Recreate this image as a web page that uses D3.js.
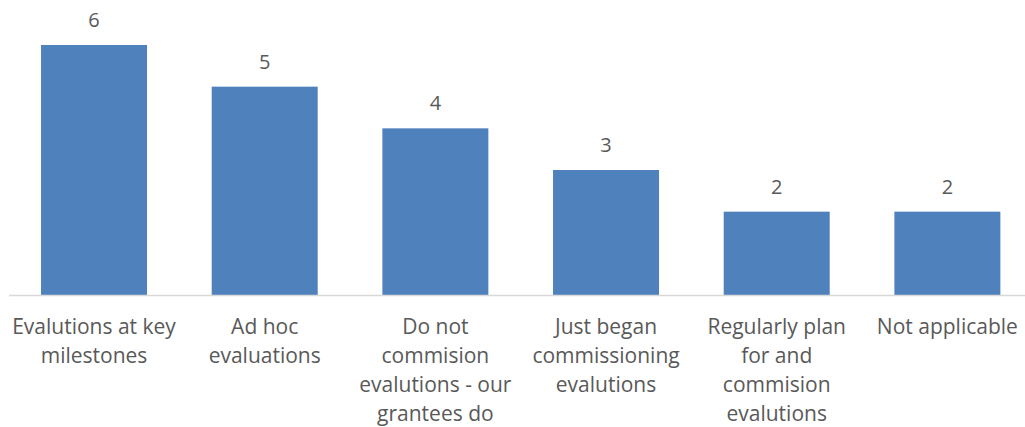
<!DOCTYPE html>
<html>
<head>
<meta charset="utf-8">
<script src="https://cdn.jsdelivr.net/npm/d3@7"></script>
<style>
  html, body { margin: 0; padding: 0; background: #ffffff; }
  svg { display: block; }
  text { font-family: "Open Sans", Lato, sans-serif; fill: #595959; }
</style>
</head>
<body>
<div id="chart"></div>
<script>
// Evaluation practices reported by respondents
const categories = [
  "Evalutions at key milestones",
  "Ad hoc evaluations",
  "Do not commision evalutions - our grantees do",
  "Just began commissioning evalutions",
  "Regularly plan for and commision evalutions",
  "Not applicable"
];
const counts = [6, 5, 4, 3, 2, 2];
// Wrapped axis label lines for each category
const labelLines = [
  ["Evalutions at key", "milestones"],
  ["Ad hoc", "evaluations"],
  ["Do not", "commision", "evalutions - our", "grantees do"],
  ["Just began", "commissioning", "evalutions"],
  ["Regularly plan", "for and", "commision", "evalutions"],
  ["Not applicable"]
];

const width = 1025, height = 427;
const svg = d3.select("#chart").append("svg")
  .attr("width", width).attr("height", height);

const x = d3.scaleBand()
  .domain(categories)
  .range([8.6, 1032.8])
  .paddingInner(0.379)
  .paddingOuter(0.19);

const y = d3.scaleLinear()
  .domain([0, 6])
  .range([295, 45]);

// Bars
svg.append("g").selectAll("rect")
  .data(categories)
  .join("rect")
  .attr("x", d => x(d))
  .attr("y", (d, i) => y(counts[i]))
  .attr("width", x.bandwidth())
  .attr("height", (d, i) => y(0) - y(counts[i]))
  .attr("fill", "#4f81bd");

// Category axis line
svg.append("line")
  .attr("x1", 9).attr("x2", width)
  .attr("y1", y(0) + 0.5).attr("y2", y(0) + 0.5)
  .attr("stroke", "#d9d9d9").attr("stroke-width", 1.5);

// Value labels above bars
svg.append("g").selectAll("text")
  .data(categories)
  .join("text")
  .attr("x", d => x(d) + x.bandwidth() / 2)
  .attr("y", (d, i) => y(counts[i]) - 18)
  .attr("text-anchor", "middle")
  .style("font-size", "20px")
  .text((d, i) => counts[i]);

// Category labels, wrapped
const lab = svg.append("g").selectAll("text")
  .data(categories)
  .join("text")
  .attr("text-anchor", "middle")
  .style("font-size", "21px");
lab.each(function(d, i) {
  const cx = x(d) + x.bandwidth() / 2;
  d3.select(this).selectAll("tspan")
    .data(labelLines[i])
    .join("tspan")
    .attr("x", cx)
    .attr("y", (t, j) => 334 + j * 29)
    .text(t => t);
});
</script>
</body>
</html>
